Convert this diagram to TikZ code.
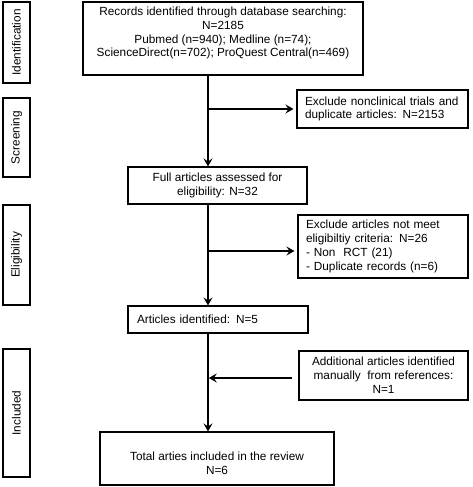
\documentclass[tikz,border=0pt]{standalone}
\usepackage{fontspec}
\setmainfont{Liberation Sans}
\usetikzlibrary{arrows.meta}
\begin{document}
\begin{tikzpicture}[x=1pt,y=-1pt,
  box/.style={draw, line width=1.1pt, inner sep=0pt, align=center, font=\fontsize{11.8}{13.8}\selectfont},
  lbox/.style={box, align=left, inner xsep=9pt},
  side/.style={draw, line width=1.1pt, rotate=90, inner sep=0pt, minimum height=27pt, font=\fontsize{11.8}{13.8}\selectfont},
  arr/.style={line width=1.6pt, -{Stealth[length=8pt,width=9pt,inset=3pt]}},
]
\useasboundingbox (0,0) rectangle (472,487);
% side labels
\node[side, minimum width=81pt] (s1) at (16.5,42.5) {Identification};
\node[side, minimum width=79pt] (s2) at (16.5,137.5) {Screening};
\node[side, minimum width=100pt] (s3) at (16.5,255) {Eligibility};
\node[side, minimum width=128pt] (s4) at (16.5,413) {Included};
% main boxes
\node[box, minimum width=280pt, minimum height=73pt] (top) at (223,38.5)
  {Records identified through database searching:\\N=2185\\Pubmed (n=940); Medline (n=74);\\ScienceDirect(n=702); ProQuest Central(n=469)\rule[-13pt]{0pt}{13pt}};
\node[lbox, inner xsep=8pt, text width=155pt, minimum height=38pt] (excl1) at (382.5,109)
  {Exclude nonclinical trials and\\duplicate articles: N=2153};
\node[box, minimum width=179pt, minimum height=37pt] (full) at (217.5,185.5)
  {Full articles assessed for\\eligibility: N=32};
\node[lbox, inner xsep=8pt, text width=154pt, minimum height=63pt] (excl2) at (383,246.5)
  {Exclude articles not meet\\eligibiltiy criteria: N=26\\- Non\ \ RCT (21)\\- Duplicate records (n=6)};
\node[lbox, text width=162pt, minimum height=27pt] (art) at (218,319.5)
  {Articles identified: N=5};
\node[box, minimum width=169pt, minimum height=49pt] (add) at (383.5,375.5)
  {Additional articles identified\\manually\ \ from references:\\N=1};
\node[box, minimum width=234pt, minimum height=53pt] (final) at (217,458.5)
  {\rule{0pt}{18pt}Total arties included in the review\\N=6};
% connectors
\coordinate (c) at (208,0);
\draw[arr] (top.south -| c) -- (full.north -| c);
\draw[arr, shorten >=3pt] (excl1.west -| c) -- (excl1.west);
\draw[arr] (full.south -| c) -- (art.north -| c);
\draw[arr, shorten >=3pt] ([yshift=-4.5pt]excl2.west -| c) -- ([yshift=-4.5pt]excl2.west);
\draw[arr] (art.south -| c) -- (final.north -| c);
\draw[arr, shorten <=6pt, shorten >=0.8pt] ([yshift=-2.5pt]add.west) -- ([yshift=-2.5pt]add.west -| c);
\end{tikzpicture}
\end{document}
